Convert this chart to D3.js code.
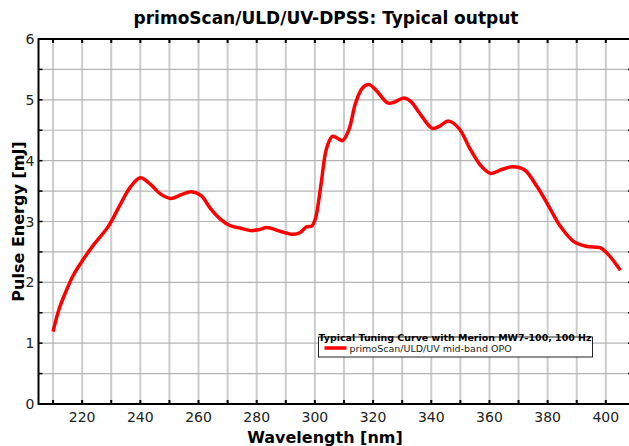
<!DOCTYPE html>
<html>
<head>
<meta charset="utf-8">
<script src="https://cdn.jsdelivr.net/npm/d3@7"></script>
<style>
  body { margin: 0; background: #fff; }
  svg { display: block; font-family: "DejaVu Sans", Verdana, sans-serif; }
</style>
</head>
<body>
<div id="chart"></div>
<script>
// tuning curve
const wavelength = [210, 212, 214, 217, 220, 224, 229, 233, 236.5, 240, 243.5, 247, 250.5, 254, 257.5,
    261, 264, 267.5, 271, 274.5, 278, 281, 283.5, 288, 292.5, 295, 297, 299, 300.2, 302, 304, 306,
    307.7, 309.5, 311.7, 314, 316.3, 318.6, 321, 325, 327.2, 330.6, 333, 336, 340.4, 342.6, 346,
    349.5, 353.5, 357, 360.4, 364, 368, 372, 376.4, 380.4, 384.4, 389, 393.5, 398, 400.4, 405];
const energy = [1.19, 1.55, 1.80, 2.12, 2.35, 2.62, 2.92, 3.27, 3.56, 3.72, 3.61, 3.45, 3.38, 3.44, 3.49,
    3.42, 3.22, 3.04, 2.93, 2.89, 2.85, 2.87, 2.90, 2.84, 2.79, 2.82, 2.91, 2.93, 3.05, 3.57, 4.20, 4.40,
    4.37, 4.33, 4.51, 4.95, 5.19, 5.25, 5.16, 4.95, 4.96, 5.03, 4.97, 4.78, 4.53, 4.56, 4.65,
    4.53, 4.18, 3.92, 3.79, 3.85, 3.90, 3.85, 3.57, 3.25, 2.92, 2.67, 2.59, 2.57, 2.48, 2.20];

const xTicks = [220, 240, 260, 280, 300, 320, 340, 360, 380, 400];
const yTicks = [0, 1, 2, 3, 4, 5, 6];
const xMinor = d3.range(210, 410, 10);
const yMinor = d3.range(0, 6.01, 0.5);

const chartTitle = "primoScan/ULD/UV-DPSS: Typical output";
const xTitle = "Wavelength [nm]";
const yTitle = "Pulse Energy [mJ]";
const legendTitle = "Typical Tuning Curve with Merion MW7-100, 100 Hz";
const seriesName = "primoScan/ULD/UV mid-band OPO";

const W = 629, H = 446;
const margin = { top: 39, right: -3, bottom: 42, left: 38.5 };
const width = W - margin.left - margin.right;
const height = H - margin.top - margin.bottom;

const svg = d3.select("#chart").append("svg")
    .attr("width", W)
    .attr("height", H);

const g = svg.append("g")
    .attr("transform", "translate(" + margin.left + "," + margin.top + ")");

const x = d3.scaleLinear().domain([205, 409]).range([0, width]);
const y = d3.scaleLinear().domain([0, 6]).range([height, 0]);

// grid
g.append("g").selectAll("line")
    .data(xMinor)
    .join("line")
    .attr("x1", d => x(d)).attr("x2", d => x(d))
    .attr("y1", 0).attr("y2", height)
    .attr("stroke", "#cccccc")
    .attr("stroke-width", 2);

g.append("g").selectAll("line")
    .data(yMinor)
    .join("line")
    .attr("x1", 0).attr("x2", width)
    .attr("y1", d => y(d)).attr("y2", d => y(d))
    .attr("stroke", "#b4b4b4")
    .attr("stroke-width", 1.2);

// inner ticks on all four sides
const tickLen = 4;
g.append("g").selectAll("line")
    .data(xMinor)
    .join("line")
    .attr("x1", d => x(d)).attr("x2", d => x(d))
    .attr("y1", height).attr("y2", height - tickLen)
    .attr("stroke", "#000").attr("stroke-width", 2);
g.append("g").selectAll("line")
    .data(xMinor)
    .join("line")
    .attr("x1", d => x(d)).attr("x2", d => x(d))
    .attr("y1", 0).attr("y2", tickLen)
    .attr("stroke", "#000").attr("stroke-width", 2);
g.append("g").selectAll("line")
    .data(yMinor)
    .join("line")
    .attr("x1", 0).attr("x2", tickLen)
    .attr("y1", d => y(d)).attr("y2", d => y(d))
    .attr("stroke", "#000").attr("stroke-width", 1.5);
g.append("g").selectAll("line")
    .data(yMinor)
    .join("line")
    .attr("x1", width).attr("x2", width - tickLen)
    .attr("y1", d => y(d)).attr("y2", d => y(d))
    .attr("stroke", "#000").attr("stroke-width", 1.5);

// frame
g.append("rect")
    .attr("width", width).attr("height", height)
    .attr("fill", "none")
    .attr("stroke", "#000")
    .attr("stroke-width", 2);

// tick labels
g.append("g").selectAll("text")
    .data(xTicks)
    .join("text")
    .attr("x", d => x(d))
    .attr("y", height + 18)
    .attr("text-anchor", "middle")
    .style("font-size", "14px")
    .style("fill", "#222")
    .text(d => d);

g.append("g").selectAll("text")
    .data(yTicks)
    .join("text")
    .attr("x", -4)
    .attr("y", d => y(d) + 5)
    .attr("text-anchor", "end")
    .style("font-size", "14px")
    .style("fill", "#222")
    .text(d => d);

// curve
const line = d3.line()
    .x(d => x(d[0]))
    .y(d => y(d[1]))
    .curve(d3.curveCatmullRom.alpha(0.5));

g.append("path")
    .datum(wavelength.map((w, i) => [w, energy[i]]))
    .attr("fill", "none")
    .attr("stroke", "#ff0000")
    .attr("stroke-width", 3.5)
    .attr("stroke-linejoin", "round")
    .attr("d", line);

// titles
svg.append("text")
    .attr("x", 326).attr("y", 24)
    .attr("text-anchor", "middle")
    .style("font-size", "17px")
    .style("font-weight", "bold")
    .text(chartTitle);

svg.append("text")
    .attr("x", 325).attr("y", 443)
    .attr("text-anchor", "middle")
    .style("font-size", "16px")
    .style("font-weight", "bold")
    .text(xTitle);

svg.append("text")
    .attr("transform", "translate(18," + (margin.top + height / 2) + ") rotate(-90)")
    .attr("text-anchor", "middle")
    .attr("dy", "0.35em")
    .style("font-size", "16px")
    .style("font-weight", "bold")
    .text(yTitle);

// legend
const legend = svg.append("g").attr("transform", "translate(318.5,337)");
legend.append("rect")
    .attr("width", 274).attr("height", 20)
    .attr("fill", "#fff")
    .attr("stroke", "#222")
    .attr("stroke-width", 1);
legend.append("text")
    .attr("x", 0).attr("y", 4)
    .attr("textLength", 273)
    .attr("lengthAdjust", "spacingAndGlyphs")
    .style("font-size", "9px")
    .style("font-weight", "bold")
    .text(legendTitle);
legend.append("line")
    .attr("x1", 6).attr("x2", 28)
    .attr("y1", 11).attr("y2", 11)
    .attr("stroke", "#ff0000")
    .attr("stroke-width", 3.5);
legend.append("text")
    .attr("x", 31).attr("y", 14.5)
    .style("font-size", "9.5px")
    .style("fill", "#222")
    .text(seriesName);
</script>
</body>
</html>
